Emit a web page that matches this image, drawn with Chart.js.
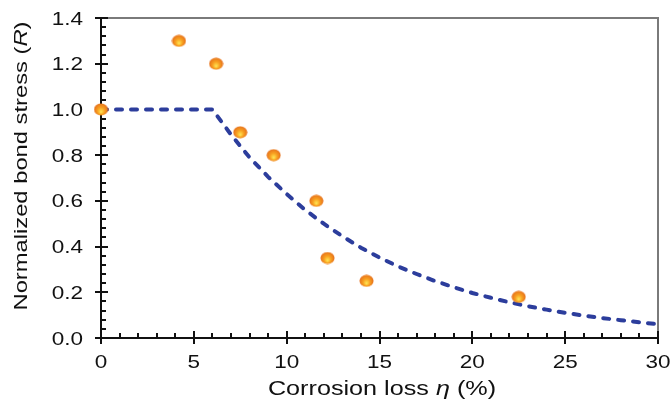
<!DOCTYPE html>
<html>
<head>
<meta charset="utf-8">
<script src="https://cdn.jsdelivr.net/npm/chart.js@4.4.1/dist/chart.umd.min.js"></script>
<style>
  html, body { margin: 0; padding: 0; background: #fff; }
</style>
</head>
<body>
<canvas id="chart" width="672" height="401"></canvas>
<script>
// test points: corrosion loss (%) vs normalized bond stress R
var lossPct = [0, 4.2, 6.2, 7.5, 9.3, 11.6, 12.2, 14.3, 22.5];
var bondStress = [1.0, 1.3, 1.2, 0.9, 0.8, 0.6, 0.35, 0.25, 0.18];

// dashed model curve
var curveLoss = [0, 6, 7, 8, 9, 10, 11, 12, 13, 14, 15, 16, 17, 18, 19, 20, 21, 22, 23, 24, 25, 26, 27, 28, 29, 30];
var curveR = [1.0, 1.0, 0.89, 0.79, 0.705, 0.63, 0.56, 0.50, 0.445, 0.395, 0.352, 0.313, 0.28, 0.249, 0.222, 0.197,
              0.176, 0.156, 0.139, 0.124, 0.11, 0.098, 0.087, 0.078, 0.069, 0.06];

var xTicks = [0, 5, 10, 15, 20, 25, 30];
var xTickLabels = ['0', '5', '10', '15', '20', '25', '30'];
var yTicks = [0, 0.2, 0.4, 0.6, 0.8, 1.0, 1.2, 1.4];
var yTickLabels = ['0.0', '0.2', '0.4', '0.6', '0.8', '1.0', '1.2', '1.4'];
var xMinorStep = 1;
var yMinorStep = 0.04;

var xTitle = [['Corrosion loss ', false], ['\u03B7', true], [' (%)', false]];
var yTitle = [['Normalized bond stress (', false], ['R', true], [')', false]];

var FONT = '"Liberation Sans", Arial, sans-serif';

// little shaded ball used as the marker
function makeBall() {
  var c = document.createElement('canvas');
  c.width = 15; c.height = 13;
  var g = c.getContext('2d');
  var grad = g.createRadialGradient(7.5, 9, 0.5, 7.5, 6.5, 8);
  grad.addColorStop(0, '#ffe050');
  grad.addColorStop(0.4, '#f8a020');
  grad.addColorStop(1, '#e0601a');
  g.fillStyle = grad;
  g.beginPath();
  g.ellipse(7.5, 6.5, 7, 6, 0, 0, Math.PI * 2);
  g.fill();
  return c;
}

// draws the title in pieces so the symbol can be italic, stretched like the source
function drawParts(ctx, parts, size, stretch) {
  var total = 0;
  parts.forEach(function (p) {
    ctx.font = (p[1] ? 'italic ' : '') + size + 'px ' + FONT;
    total += ctx.measureText(p[0]).width;
  });
  ctx.scale(stretch, 1);
  var x = -total / 2;
  parts.forEach(function (p) {
    ctx.font = (p[1] ? 'italic ' : '') + size + 'px ' + FONT;
    ctx.fillText(p[0], x, 0);
    x += ctx.measureText(p[0]).width;
  });
}

var axesPlugin = {
  id: 'axesPlugin',
  beforeDatasetsDraw: function (chart) {
    var ctx = chart.ctx;
    var a = chart.chartArea;
    var xs = chart.scales.x, ys = chart.scales.y;
    ctx.save();
    // top / right frame
    ctx.strokeStyle = '#7a7a7a';
    ctx.lineWidth = 2;
    ctx.beginPath();
    ctx.moveTo(a.left, a.top);
    ctx.lineTo(a.right, a.top);
    ctx.lineTo(a.right, a.bottom);
    ctx.stroke();
    // axes
    ctx.strokeStyle = '#111';
    ctx.beginPath();
    ctx.moveTo(a.left, a.top - 1);
    ctx.lineTo(a.left, a.bottom);
    ctx.lineTo(a.right + 1, a.bottom);
    ctx.stroke();
    // minor ticks
    var i, p;
    ctx.beginPath();
    for (i = 0; i * xMinorStep <= xs.max + 1e-9; i++) {
      p = Math.round(xs.getPixelForValue(i * xMinorStep));
      ctx.moveTo(p, a.bottom);
      ctx.lineTo(p, a.bottom - 5);
    }
    for (i = 0; i * yMinorStep <= ys.max + 1e-9; i++) {
      p = Math.round(ys.getPixelForValue(i * yMinorStep));
      ctx.moveTo(a.left, p);
      ctx.lineTo(a.left + 5, p);
    }
    ctx.stroke();
    // major ticks
    ctx.beginPath();
    xTicks.forEach(function (v) {
      p = Math.round(xs.getPixelForValue(v));
      ctx.moveTo(p, a.bottom + 6);
      ctx.lineTo(p, a.bottom - 7);
    });
    yTicks.forEach(function (v) {
      p = Math.round(ys.getPixelForValue(v));
      ctx.moveTo(a.left - 6, p);
      ctx.lineTo(a.left + 7, p);
    });
    ctx.stroke();

    // tick labels
    ctx.fillStyle = '#111';
    ctx.textBaseline = 'alphabetic';
    xTicks.forEach(function (v, k) {
      ctx.save();
      ctx.translate(xs.getPixelForValue(v), a.bottom + 30);
      ctx.scale(1.25, 1);
      ctx.font = '18px ' + FONT;
      ctx.textAlign = 'center';
      ctx.fillText(xTickLabels[k], 0, 0);
      ctx.restore();
    });
    yTicks.forEach(function (v, k) {
      ctx.save();
      ctx.translate(a.left - 18, ys.getPixelForValue(v) + 6.5);
      ctx.scale(1.25, 1);
      ctx.font = '18px ' + FONT;
      ctx.textAlign = 'right';
      ctx.fillText(yTickLabels[k], 0, 0);
      ctx.restore();
    });

    // axis titles
    ctx.textAlign = 'left';
    ctx.save();
    ctx.translate(382, 395);
    drawParts(ctx, xTitle, 21, 1.2);
    ctx.restore();
    ctx.save();
    ctx.translate(27, 166);
    ctx.rotate(-Math.PI / 2);
    drawParts(ctx, yTitle, 19, 1.25);
    ctx.restore();
    ctx.restore();
  }
};

var ball = makeBall();

new Chart(document.getElementById('chart'), {
  type: 'scatter',
  data: {
    datasets: [{
      label: 'Test',
      data: lossPct.map(function (x, i) { return { x: x, y: bondStress[i] }; }),
      pointStyle: ball,
      pointRadius: 7,
      clip: false,
      order: 0
    }, {
      label: 'Model',
      data: curveLoss.map(function (x, i) { return { x: x, y: curveR[i] }; }),
      showLine: true,
      borderColor: '#2c3d9c',
      borderWidth: 4,
      borderDash: [6, 9],
      borderCapStyle: 'round',
      tension: 0,
      pointRadius: 0,
      clip: false,
      order: 1
    }]
  },
  options: {
    responsive: false,
    animation: false,
    devicePixelRatio: 1,
    layout: { padding: { left: 101, top: 18, right: 14, bottom: 63 } },
    plugins: { legend: { display: false }, tooltip: { enabled: false } },
    scales: {
      x: { type: 'linear', min: 0, max: 30, display: false },
      y: { type: 'linear', min: 0, max: 1.4, display: false }
    }
  },
  plugins: [axesPlugin]
});
</script>
</body>
</html>
